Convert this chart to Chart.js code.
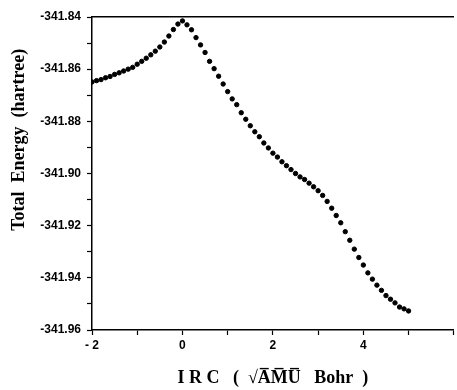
<!DOCTYPE html>
<html>
<head>
<meta charset="utf-8">
<script src="https://cdn.jsdelivr.net/npm/chart.js@4.4.1/dist/chart.umd.min.js"></script>
<style>
html,body{margin:0;padding:0;background:#fff;}
canvas{display:block;}
</style>
</head>
<body>
<canvas id="c" width="457" height="390"></canvas>
<script>
const irc = [-2.0,-1.9,-1.8,-1.7,-1.6,-1.5,-1.4,-1.3,-1.2,-1.1,-1.0,-0.9,-0.8,-0.7,-0.6,-0.5,-0.4,-0.3,-0.2,-0.1,
  0.0,0.1,0.2,0.3,0.4,0.5,0.6,0.7,0.8,0.9,1.0,1.1,1.2,1.3,1.4,1.5,1.6,1.7,1.8,1.9,
  2.0,2.1,2.2,2.3,2.4,2.5,2.6,2.7,2.8,2.9,3.0,3.1,3.2,3.3,3.4,3.5,3.6,3.7,3.8,3.9,
  4.0,4.1,4.2,4.3,4.4,4.5,4.6,4.7,4.8,4.9,5.0];
const energy = [-341.8649,-341.8644,-341.8640,-341.8633,-341.8628,-341.8620,-341.8614,-341.8607,-341.8600,-341.8593,
  -341.8581,-341.8570,-341.8558,-341.8545,-341.8531,-341.8515,-341.8496,-341.8473,-341.8448,-341.8427,
  -341.8415,-341.8430,-341.8449,-341.8479,-341.8507,-341.8536,-341.8570,-341.8598,-341.8627,-341.8657,
  -341.8686,-341.8714,-341.8736,-341.8767,-341.8792,-341.8817,-341.8840,-341.8859,-341.8883,-341.8902,
  -341.8922,-341.8937,-341.8955,-341.8970,-341.8985,-341.9000,-341.9013,-341.9023,-341.9037,-341.9051,
  -341.9066,-341.9084,-341.9107,-341.9133,-341.9161,-341.9189,-341.9223,-341.9256,-341.9290,-341.9322,
  -341.9351,-341.9381,-341.9405,-341.9428,-341.9448,-341.9468,-341.9482,-341.9496,-341.9512,-341.9519,
  -341.9527];
const xTickLabels = {"-2": "- 2", "0": "0", "2": "2", "4": "4"};
const yMin = -341.96, yMax = -341.84;
const xMin = -2, xMax = 6;
const xTitle = "I R C   (  \u221AA\u0305M\u0305U\u0305   Bohr  )";
const yTitle = "\u00A0".repeat(15) + "Total  Energy  (hartree)";

const points = irc.map((x, i) => ({x: x, y: energy[i]}));

new Chart(document.getElementById('c'), {
  type: 'scatter',
  data: {
    datasets: [{
      data: points,
      backgroundColor: '#000',
      borderColor: '#000',
      pointRadius: 2.2,
      pointHoverRadius: 2.2,
      showLine: false
    }]
  },
  options: {
    responsive: false,
    animation: false,
    events: [],
    layout: {padding: {top: 17, right: 0, left: 0, bottom: 0}},
    plugins: {legend: {display: false}, tooltip: {enabled: false}},
    scales: {
      x: {
        type: 'linear', position: 'bottom', min: xMin, max: xMax,
        afterFit: s => { s.height = 60; },
        border: {display: true, color: '#000', width: 1.5},
        grid: {display: true, drawOnChartArea: false, drawTicks: true, tickLength: 5, tickColor: '#000', tickWidth: 1.2},
        ticks: {
          stepSize: 1, autoSkip: false, maxRotation: 0, padding: 3, color: '#000',
          font: {family: 'Liberation Sans, Arial, sans-serif', size: 12, weight: 'bold'},
          callback: v => (xTickLabels[String(v)] !== undefined ? xTickLabels[String(v)] : '')
        },
        title: {
          display: true, text: xTitle, color: '#000',
          font: {family: 'Liberation Serif, Times New Roman, serif', size: 18, weight: 'bold'},
          padding: {top: 0, bottom: 1}
        }
      },
      x2: {
        type: 'linear', position: 'top', min: xMin, max: xMax,
        afterFit: s => { s.height = 0; },
        border: {display: true, color: '#000', width: 1.5},
        grid: {display: false, drawTicks: false},
        ticks: {display: false}
      },
      y: {
        type: 'linear', min: yMin, max: yMax,
        afterFit: s => { s.width = 92; },
        border: {display: true, color: '#000', width: 1.5},
        grid: {display: true, drawOnChartArea: false, drawTicks: true, tickLength: 5, tickColor: '#000', tickWidth: 1.2},
        ticks: {
          stepSize: 0.01, autoSkip: false, padding: 6, color: '#000',
          font: {family: 'Liberation Sans, Arial, sans-serif', size: 12, weight: 'bold'},
          callback: v => (Math.round(v * 100) % 2 === 0 ? v.toFixed(2) : '')
        },
        title: {
          display: true, text: yTitle, color: '#000',
          font: {family: 'Liberation Serif, Times New Roman, serif', size: 18, weight: 'bold'},
          padding: {top: 9, bottom: 0}
        }
      }
    }
  }
});
</script>
</body>
</html>
